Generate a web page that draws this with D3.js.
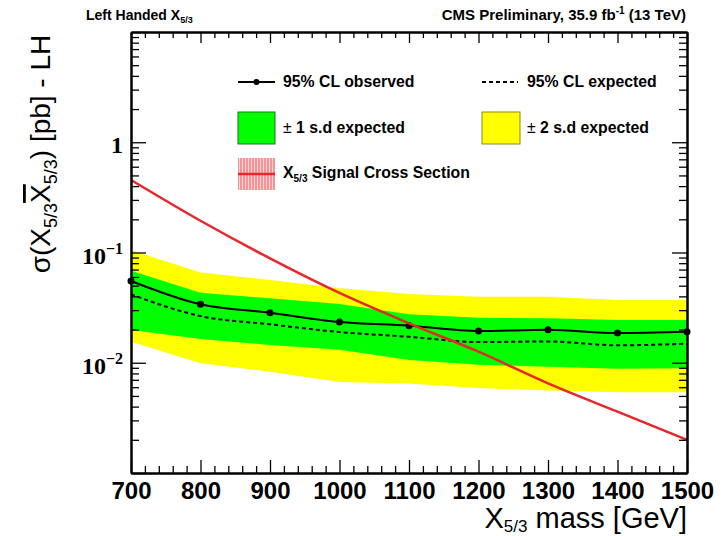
<!DOCTYPE html>
<html>
<head>
<meta charset="utf-8">
<script src="https://cdn.jsdelivr.net/npm/d3@7"></script>
<style>
  body { margin: 0; background: #fff; }
  svg text { font-family: "Liberation Sans", Arial, sans-serif; }
</style>
</head>
<body>
<div id="chart"></div>
<script>
// values
const masses     = [700, 800, 900, 1000, 1100, 1200, 1300, 1400, 1500]
const observed   = [0.0552, 0.0339, 0.0284, 0.0234, 0.0217, 0.0194, 0.0199, 0.0186, 0.0191]
const expected   = [0.0417, 0.0265, 0.0223, 0.0190, 0.0172, 0.0154, 0.0156, 0.0144, 0.0149]
const sigma1Up   = [0.0684, 0.0432, 0.0384, 0.0341, 0.0275, 0.0256, 0.0253, 0.0244, 0.0244]
const sigma1Down = [0.0198, 0.0164, 0.0145, 0.0131, 0.0106, 0.0096, 0.0092, 0.0088, 0.0089]
const sigma2Up   = [0.105, 0.066, 0.0563, 0.0473, 0.042, 0.0397, 0.0397, 0.0371, 0.0371]
const sigma2Down = [0.0155, 0.0099, 0.0083, 0.0067, 0.0065, 0.0059, 0.0056, 0.0054, 0.0054]
const signalXs   = [0.455, 0.194, 0.0885, 0.043, 0.0228, 0.0126, 0.0065, 0.0036, 0.0020]

const xTicks = [700, 800, 900, 1000, 1100, 1200, 1300, 1400, 1500]
const yDecades = [0.001, 0.01, 0.1, 1, 10]
const yLabelTicks = [0.01, 0.1, 1]
const yLabelBase = ['10', '10', '1']
const yLabelExp = ['\u22122', '\u22121', '']

const W = 725, H = 536
const svg = d3.select('#chart').append('svg')
  .attr('width', W)
  .attr('height', H)

let x = d3.scaleLinear().domain([700, 1500]).range([131, 687])
let y = d3.scaleLog().domain([0.001, 10]).range([473, 32])

// bands
function band(lo, hi) {
  return d3.area()
    .x((d, i) => x(masses[i]))
    .y0((d, i) => y(lo[i]))
    .y1((d, i) => y(hi[i]))
}
svg.append('path').datum(masses)
  .attr('d', band(sigma2Down, sigma2Up))
  .attr('fill', '#ffff00')
svg.append('path').datum(masses)
  .attr('d', band(sigma1Down, sigma1Up))
  .attr('fill', '#00ff00')

function line(vals) {
  return d3.line()
    .x((d, i) => x(masses[i]))
    .y((d, i) => y(vals[i]))
    .curve(d3.curveMonotoneX)
}

svg.append('path').datum(masses)
  .attr('d', line(expected))
  .attr('fill', 'none')
  .attr('stroke', '#000')
  .attr('stroke-width', 2)
  .attr('stroke-dasharray', '4,3')

svg.append('path').datum(masses)
  .attr('d', line(observed))
  .attr('fill', 'none')
  .attr('stroke', '#000')
  .attr('stroke-width', 2)

svg.selectAll('circle.obs')
  .data(masses)
  .enter()
  .append('circle')
  .attr('class', 'obs')
  .attr('cx', d => x(d))
  .attr('cy', (d, i) => y(observed[i]))
  .attr('r', 3.5)
  .attr('fill', '#000')

svg.append('path').datum(masses)
  .attr('d', line(signalXs))
  .attr('fill', 'none')
  .attr('stroke', '#e8262b')
  .attr('stroke-width', 2.5)

// axes
function styleAxis(g) {
  g.select('.domain').attr('stroke', '#000').attr('stroke-width', 2)
  g.selectAll('.tick line').attr('stroke', '#000').attr('stroke-width', 1.3)
}

const xMinor = x.ticks(40).filter(v => v % 100 !== 0)
const yMinor = y.ticks().filter(v => yDecades.indexOf(v) < 0)

svg.append('g')
  .attr('transform', 'translate(0,473)')
  .call(d3.axisBottom(x).tickValues(xTicks).tickSize(-13).tickSizeOuter(0).tickPadding(9).tickFormat(d3.format('d')))
  .call(styleAxis)
  .call(g => g.selectAll('text')
    .attr('font-family', '"Liberation Serif", "Times New Roman", serif')
    .attr('font-weight', 'bold')
    .attr('font-size', 24)
    .attr('fill', '#000'))
svg.append('g')
  .attr('transform', 'translate(0,473)')
  .call(d3.axisBottom(x).tickValues(xMinor).tickSize(-7).tickSizeOuter(0).tickFormat(''))
  .call(styleAxis)

svg.append('g')
  .attr('transform', 'translate(0,32)')
  .call(d3.axisTop(x).tickValues(xTicks).tickSize(-11).tickSizeOuter(0).tickFormat(''))
  .call(styleAxis)
svg.append('g')
  .attr('transform', 'translate(0,32)')
  .call(d3.axisTop(x).tickValues(xMinor).tickSize(-6).tickSizeOuter(0).tickFormat(''))
  .call(styleAxis)

svg.append('g')
  .attr('transform', 'translate(131,0)')
  .call(d3.axisLeft(y).tickValues(yDecades).tickSize(-15).tickSizeOuter(0).tickFormat(''))
  .call(styleAxis)
svg.append('g')
  .attr('transform', 'translate(131,0)')
  .call(d3.axisLeft(y).tickValues(yMinor).tickSize(-8).tickSizeOuter(0).tickFormat(''))
  .call(styleAxis)

svg.append('g')
  .attr('transform', 'translate(687,0)')
  .call(d3.axisRight(y).tickValues(yDecades).tickSize(-15).tickSizeOuter(0).tickFormat(''))
  .call(styleAxis)
svg.append('g')
  .attr('transform', 'translate(687,0)')
  .call(d3.axisRight(y).tickValues(yMinor).tickSize(-8).tickSizeOuter(0).tickFormat(''))
  .call(styleAxis)

// y tick labels
let yl = svg.selectAll('text.ylab')
  .data(yLabelTicks)
  .enter()
  .append('text')
  .attr('class', 'ylab')
  .attr('x', 123)
  .attr('y', d => y(d) + 11)
  .attr('text-anchor', 'end')
  .attr('font-weight', 'bold')
  .attr('font-size', 24)
  .style('font-family', '"Liberation Serif", "Times New Roman", serif')
yl.append('tspan').text((d, i) => yLabelBase[i])
yl.append('tspan')
  .attr('dy', -10)
  .attr('font-size', 16)
  .text((d, i) => yLabelExp[i])

// axis titles
const yTitle = svg.append('text')
  .attr('transform', 'translate(50,154) rotate(-90)')
  .attr('text-anchor', 'middle')
  .attr('font-size', 28)
yTitle.append('tspan').text('\u03c3(X')
yTitle.append('tspan').attr('font-size', 18).attr('dy', 7).text('5/3')
yTitle.append('tspan').attr('dy', -7).style('text-decoration', 'overline').text('X')
yTitle.append('tspan').attr('font-size', 18).attr('dy', 7).text('5/3')
yTitle.append('tspan').attr('dy', -7).text(') [pb] - LH')

const xTitle = svg.append('text')
  .attr('x', 687)
  .attr('y', 528)
  .attr('text-anchor', 'end')
  .attr('font-size', 29)
xTitle.append('tspan').text('X')
xTitle.append('tspan').attr('font-size', 17).attr('dy', 4).text('5/3')
xTitle.append('tspan').attr('dy', -4).text(' mass [GeV]')

// header texts
const leftHead = svg.append('text')
  .attr('x', 86)
  .attr('y', 20)
  .attr('font-size', 14)
  .attr('font-weight', 'bold')
leftHead.append('tspan').text('Left Handed X')
leftHead.append('tspan').attr('font-size', 9).attr('dy', 3).text('5/3')

const rightHead = svg.append('text')
  .attr('x', 686)
  .attr('y', 20)
  .attr('text-anchor', 'end')
  .attr('font-size', 15)
  .attr('font-weight', 'bold')
rightHead.append('tspan').text('CMS Preliminary, 35.9 fb')
rightHead.append('tspan').attr('font-size', 10).attr('dy', -6).text('-1')
rightHead.append('tspan').attr('dy', 6).text(' (13 TeV)')

// legend
const defs = svg.append('defs')
const hatch = defs.append('pattern')
  .attr('id', 'redHatch')
  .attr('patternUnits', 'userSpaceOnUse')
  .attr('width', 3)
  .attr('height', 3)
hatch.append('rect').attr('width', 3).attr('height', 3).attr('fill', '#fbd5d5')
hatch.append('line')
  .attr('x1', 1).attr('x2', 1).attr('y1', 0).attr('y2', 3)
  .attr('stroke', '#f06a6a').attr('stroke-width', 1.2)

const leg = svg.append('g')
  .attr('font-size', 15.8)
  .attr('font-weight', 'bold')

leg.append('line')
  .attr('x1', 238).attr('x2', 275).attr('y1', 82).attr('y2', 82)
  .attr('stroke', '#000').attr('stroke-width', 2)
leg.append('circle').attr('cx', 256.5).attr('cy', 82).attr('r', 3).attr('fill', '#000')
leg.append('text').attr('x', 283).attr('y', 87).text('95% CL observed')

leg.append('line')
  .attr('x1', 482).attr('x2', 518).attr('y1', 82).attr('y2', 82)
  .attr('stroke', '#000').attr('stroke-width', 2).attr('stroke-dasharray', '4,3')
leg.append('text').attr('x', 527).attr('y', 87).text('95% CL expected')

leg.append('rect')
  .attr('x', 238).attr('y', 112).attr('width', 37).attr('height', 32)
  .attr('fill', '#00ff00').attr('stroke', '#1a7a1a').attr('stroke-width', 1)
const s1 = leg.append('text').attr('x', 283).attr('y', 133)
s1.append('tspan').attr('font-weight', 'normal').text('\u00b1')
s1.append('tspan').text(' 1 s.d expected')

leg.append('rect')
  .attr('x', 482).attr('y', 112).attr('width', 38).attr('height', 32)
  .attr('fill', '#ffff00').attr('stroke', '#8a8a20').attr('stroke-width', 1)
const s2 = leg.append('text').attr('x', 527).attr('y', 133)
s2.append('tspan').attr('font-weight', 'normal').text('\u00b1')
s2.append('tspan').text(' 2 s.d expected')

leg.append('rect')
  .attr('x', 238).attr('y', 158).attr('width', 37).attr('height', 32)
  .attr('fill', 'url(#redHatch)')
leg.append('line')
  .attr('x1', 238).attr('x2', 275).attr('y1', 174).attr('y2', 174)
  .attr('stroke', '#e8262b').attr('stroke-width', 2.5)
const sigLeg = leg.append('text').attr('x', 283).attr('y', 178)
sigLeg.append('tspan').text('X')
sigLeg.append('tspan').attr('font-size', 10).attr('dy', 4).text('5/3')
sigLeg.append('tspan').attr('dy', -4).text(' Signal Cross Section')
</script>
</body>
</html>
